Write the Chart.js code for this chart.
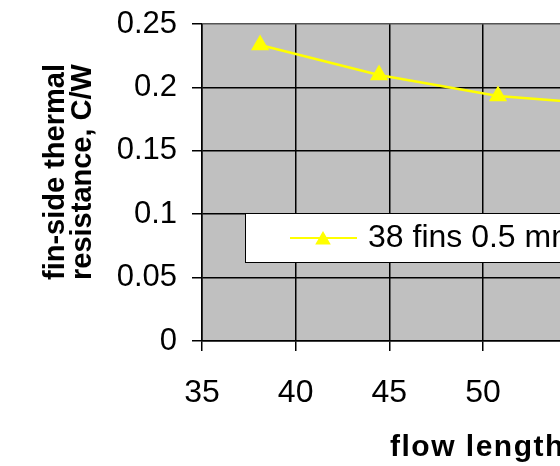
<!DOCTYPE html>
<html>
<head>
<meta charset="utf-8">
<script src="https://cdn.jsdelivr.net/npm/chart.js@4/dist/chart.umd.min.js"></script>
<style>
  html, body { margin: 0; padding: 0; background: #fff; overflow: hidden; }
  #wrap { width: 560px; height: 466px; overflow: hidden; }
  canvas { display: block; }
</style>
</head>
<body>
<div id="wrap"><canvas id="chart" width="800" height="466"></canvas></div>
<script>
// data (x in mm, y in C/W)
const flowLength = [38.1, 44.45, 50.8, 57.15];
const finResistance = [0.2334, 0.2098, 0.1932, 0.186];
const seriesLabel = '38 fins 0.5 mm';
const xTickLabels = ['35', '40', '45', '50', '55', '60', '65'];
const yTickLabels = ['0', '0.05', '0.1', '0.15', '0.2', '0.25'];
const xTitle = 'flow length, mm';
const yTitle = ['fin-side thermal', 'resistance, C/W'];

const plotBg = {
  id: 'plotBg',
  beforeDraw(chart) {
    const { ctx, chartArea: a } = chart;
    ctx.save();
    ctx.fillStyle = '#c0c0c0';
    ctx.fillRect(a.left, a.top, a.right - a.left, a.bottom - a.top);
    ctx.restore();
  }
};

// axis titles + legend box drawn by hand (excel style)
const extras = {
  id: 'extras',
  afterDraw(chart) {
    const { ctx } = chart;
    ctx.save();
    ctx.fillStyle = '#000';
    ctx.font = 'bold 29px "Liberation Sans", Arial, sans-serif';
    ctx.textAlign = 'center';
    ctx.textBaseline = 'alphabetic';
    [64, 91].forEach((bx, i) => {
      ctx.save();
      ctx.translate(bx, 172);
      ctx.rotate(-Math.PI / 2);
      ctx.fillText(yTitle[i], 0, 0);
      ctx.restore();
    });
    ctx.font = 'bold 30px "Liberation Sans", Arial, sans-serif';
    ctx.textAlign = 'left';
    ctx.letterSpacing = '1.5px';
    ctx.fillText(xTitle, 390, 456);
    ctx.letterSpacing = '0px';

    // legend
    ctx.fillStyle = '#fff';
    ctx.fillRect(245, 213, 600, 49);
    ctx.strokeStyle = '#000';
    ctx.lineWidth = 1;
    ctx.strokeRect(245.5, 213.5, 600, 49);
    ctx.strokeStyle = '#ffff00';
    ctx.lineWidth = 2;
    ctx.beginPath();
    ctx.moveTo(290, 238);
    ctx.lineTo(357, 238);
    ctx.stroke();
    const r = 9, cx = 323, cy = 240;
    ctx.fillStyle = '#ffff00';
    ctx.beginPath();
    ctx.moveTo(cx, cy - r);
    ctx.lineTo(cx + r * 0.866, cy + r / 2);
    ctx.lineTo(cx - r * 0.866, cy + r / 2);
    ctx.closePath();
    ctx.fill();
    ctx.fillStyle = '#000';
    ctx.font = '32px "Liberation Sans", Arial, sans-serif';
    ctx.fillText(chart.data.datasets[0].label, 368, 247);
    ctx.restore();
  }
};

new Chart(document.getElementById('chart'), {
  type: 'scatter',
  data: {
    datasets: [{
      label: seriesLabel,
      data: flowLength.map((x, i) => ({ x: x, y: finResistance[i] })),
      showLine: true,
      borderColor: '#ffff00',
      backgroundColor: '#ffff00',
      borderWidth: 2.5,
      pointStyle: 'triangle',
      pointRadius: 10.5,
      pointBorderWidth: 0
    }]
  },
  options: {
    responsive: false,
    animation: false,
    layout: { padding: { top: 24, left: 0, right: 36, bottom: 0 } },
    plugins: {
      legend: { display: false },
      tooltip: { enabled: false }
    },
    scales: {
      x: {
        type: 'linear',
        min: 35,
        max: 65,
        afterFit: (s) => { s.height = 125; s.paddingLeft = 0; s.paddingRight = 0; },
        afterBuildTicks: (s) => { s.ticks = xTickLabels.map(v => ({ value: Number(v) })); },
        ticks: {
          color: '#000',
          padding: 23,
          font: { family: '"Liberation Sans", Arial, sans-serif', size: 32 },
          callback: (v, i) => xTickLabels[i]
        },
        grid: { color: '#000', lineWidth: 1.5, tickLength: 10, tickColor: '#000', tickWidth: 1.5 },
        border: { color: '#000', width: 1.5 }
      },
      y: {
        min: 0,
        max: 0.25,
        afterFit: (s) => { s.width = 202; s.paddingTop = 0; s.paddingBottom = 0; },
        afterBuildTicks: (s) => { s.ticks = yTickLabels.map(v => ({ value: Number(v) })); },
        ticks: {
          color: '#000',
          padding: 15,
          font: { family: '"Liberation Sans", Arial, sans-serif', size: 31 },
          callback: (v, i) => yTickLabels[i]
        },
        grid: {
          color: (c) => (c.tick && c.tick.value === 0.25 ? '#555' : '#000'),
          lineWidth: 1.5,
          tickLength: 10,
          tickColor: '#000',
          tickWidth: 1.5
        },
        border: { color: '#000', width: 1.5 }
      }
    }
  },
  plugins: [plotBg, extras]
});
</script>
</body>
</html>
